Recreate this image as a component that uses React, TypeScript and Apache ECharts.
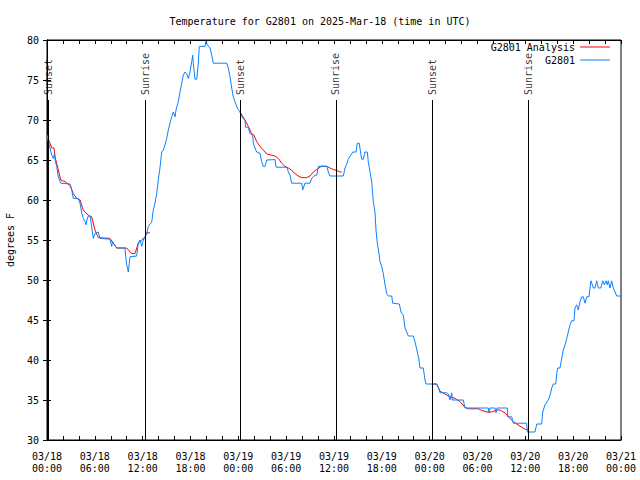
import React, { useEffect, useRef } from "react";
import * as echarts from "echarts";

// Hours since 2025-03-18 00:00 UTC, temperature in °F
const g2801Obs: [number, number][] = [
  [0, 68.1], [0.16, 67.3], [0.38, 66.5], [0.59, 65.6], [0.79, 65.2], [0.95, 65.8], [1.05, 64.8], [1.22, 64.2],
  [1.42, 62.9], [1.72, 62.1], [2.89, 62.0], [3.1, 61.3], [3.3, 60.2], [3.93, 60.2], [4.14, 59.6], [4.35, 58.4],
  [4.55, 57.7], [4.77, 57.3], [4.9, 56.9], [5.0, 57.5], [5.18, 58.0], [5.4, 58.0], [5.52, 57.2], [5.81, 55.2],
  [6.02, 55.8], [6.43, 56.0], [6.65, 55.2], [7.9, 55.1], [8.12, 54.2], [8.2, 54.8], [8.32, 54.6], [8.74, 54.0],
  [9.78, 54.0], [9.9, 52.7], [10.0, 51.9], [10.2, 51.0], [10.41, 52.9], [11.25, 53.0], [11.45, 54.6], [11.67, 55.0],
  [11.88, 54.2], [12.08, 55.0], [12.29, 55.3], [12.51, 55.8], [12.71, 56.7], [12.92, 57.0], [13.13, 57.2], [13.33, 58.75],
  [13.55, 59.6], [13.76, 60.8], [13.96, 62.5], [14.17, 64.0], [14.39, 66.0], [14.59, 66.25], [14.8, 66.9], [15.01, 67.7],
  [15.22, 68.75], [15.43, 69.6], [15.64, 70.4], [15.84, 71.0], [16.06, 70.4], [16.18, 71.25], [16.47, 72.3], [16.68, 73.5],
  [16.9, 74.6], [17.1, 75.6], [17.31, 76.0], [17.52, 75.8], [17.72, 75.2], [17.94, 76.0], [18.15, 77.3], [18.28, 78.1],
  [18.35, 77.1], [18.56, 75.1], [18.78, 75.1], [18.98, 77.1], [19.1, 79.2], [19.82, 79.2], [19.94, 79.9], [20.11, 79.4],
  [20.45, 79.0], [20.66, 78.1], [20.86, 77.1], [22.54, 77.1], [22.74, 76.5], [22.96, 75.4], [23.17, 74.0], [23.37, 72.9],
  [23.58, 72.3], [23.87, 71.5], [24.21, 71.0], [24.55, 70.2], [24.84, 70.0], [24.9, 69.1], [25.25, 69.1], [25.46, 68.3],
  [25.8, 68.1], [25.88, 67.1], [26.09, 66.5], [26.3, 66.0], [26.72, 65.8], [26.93, 64.8], [27.13, 64.2], [27.35, 64.2],
  [27.56, 65.0], [28.6, 65.05], [28.73, 64.1], [30.11, 64.1], [30.27, 63.5], [30.48, 63.1], [30.69, 62.1], [31.95, 62.1],
  [32.07, 61.25], [32.36, 62.1], [32.99, 62.1], [33.2, 62.7], [33.62, 63.1], [33.83, 63.1], [34.03, 64.2], [34.46, 64.2],
  [35.09, 64.2], [35.29, 63.5], [35.5, 63.0], [37.17, 63.0], [37.38, 64.0], [37.59, 64.5], [37.79, 65.1], [38.09, 65.6],
  [38.35, 66.0], [38.76, 66.0], [38.92, 67.1], [39.17, 67.1], [39.35, 65.8], [39.48, 65.1], [39.68, 65.1], [39.89, 66.0],
  [40.18, 66.0], [40.3, 64.8], [40.52, 63.5], [40.73, 62.3], [40.93, 59.8], [41.14, 58.5], [41.27, 56.25], [41.43, 54.6],
  [41.65, 53.3], [41.77, 52.3], [41.98, 51.7], [42.18, 50.8], [42.4, 49.4], [42.61, 48.3], [42.81, 48.0], [43.24, 48.0],
  [43.36, 47.1], [44.19, 47.0], [44.41, 46.0], [44.69, 45.6], [44.91, 44.0], [45.32, 43.0], [45.95, 43.0], [46.16, 42.3],
  [46.45, 41.0], [46.66, 40.0], [46.79, 39.0], [47.2, 39.0], [47.42, 37.5], [47.54, 37.0], [48.88, 37.0], [49.08, 36.6],
  [49.3, 35.9], [50.14, 35.9], [50.34, 35.75], [50.55, 35.0], [50.77, 35.9], [50.85, 35.0], [52.22, 35.0], [52.43, 34.0],
  [55.36, 34.0], [55.45, 33.4], [55.57, 34.0], [56.2, 34.0], [56.32, 33.4], [56.45, 34.0], [57.74, 34.0], [57.8, 32.9],
  [58.29, 32.9], [58.49, 32.1], [60.17, 32.1], [60.25, 31.0], [61.21, 31.0], [61.43, 32.0], [62.05, 32.0], [62.18, 33.5],
  [62.47, 34.4], [62.88, 35.0], [63.1, 35.6], [63.31, 36.5], [63.51, 37.0], [63.81, 37.0], [63.94, 38.3], [64.06, 39.0],
  [64.35, 39.0], [64.56, 40.2], [64.76, 41.25], [64.98, 41.9], [65.19, 42.7], [65.39, 43.5], [65.6, 44.4], [65.82, 44.9],
  [66.11, 44.9], [66.23, 46.5], [66.44, 46.9], [66.64, 46.25], [66.86, 47.3], [67.07, 47.9], [67.27, 47.9], [67.49, 47.1],
  [67.7, 47.9], [67.99, 47.9], [68.11, 49.0], [68.24, 49.9], [68.53, 49.0], [68.74, 49.0], [68.95, 49.9], [69.16, 49.0],
  [69.46, 49.0], [69.71, 49.9], [69.91, 49.4], [70.12, 49.9], [70.28, 49.4], [70.41, 49.9], [70.62, 49.0], [70.83, 49.9],
  [71.03, 49.0], [71.25, 48.5], [71.46, 48.0], [72, 48.0],
];

const analysisNight1: [number, number][] = [
  [0, 68.1], [0.59, 66.5], [0.88, 66.5], [1.0, 65.4], [1.42, 63.75], [1.72, 62.5], [2.26, 62.3], [2.89, 61.8],
  [3.3, 60.8], [3.73, 60.2], [4.14, 60.0], [4.55, 58.75], [5.18, 58.1], [5.6, 57.9], [6.02, 56.25], [6.43, 55.3],
  [7.06, 55.25], [7.9, 55.2], [8.32, 54.6], [8.74, 54.0], [9.99, 54.0], [10.62, 53.3], [11.04, 53.3], [11.45, 54.6],
  [11.88, 55.0], [12.29, 55.4], [12.51, 55.9], [12.92, 55.9],
];
const analysisNight2: [number, number][] = [
  [24.21, 71.0], [24.84, 70.0], [25.25, 69.2], [25.67, 68.3], [25.96, 68.1], [26.3, 67.3], [26.72, 66.7], [27.13, 66.25],
  [27.56, 65.75], [28.18, 65.6], [28.6, 65.5], [29.02, 65.2], [29.44, 64.6], [29.85, 64.2], [30.27, 64.0], [30.69, 63.7],
  [31.11, 63.3], [31.52, 63.0], [31.95, 62.8], [32.57, 62.8], [32.99, 63.0], [33.41, 63.5], [33.83, 63.8], [34.46, 64.25],
  [35.09, 64.2], [35.5, 64.0], [35.92, 63.8], [36.34, 63.7], [36.76, 63.5], [36.97, 63.5],
];
const analysisNight3: [number, number][] = [
  [48.3, 37.0], [48.88, 37.0], [49.3, 36.1], [49.92, 35.75], [50.55, 35.4], [51.18, 35.2], [51.81, 34.8], [52.43, 34.1],
  [52.85, 33.9], [54.11, 33.9], [54.53, 33.7], [55.15, 33.5], [55.78, 33.5], [56.4, 33.75], [56.82, 33.75], [57.45, 33.4],
  [57.87, 32.9], [58.49, 32.3], [58.91, 32.0], [59.54, 31.6], [60.08, 31.3], [60.37, 31.3],
];

const eventHours = [0.15, 12.33, 24.25, 36.25, 48.33, 60.38];
const eventNames = ["Sunset", "Sunrise", "Sunset", "Sunrise", "Sunset", "Sunrise"];
const eventLineTop = 72.5;

const dayLabels = ["03/18", "03/19", "03/20", "03/21"];

const FONT = "DejaVu Sans Mono";
const BLUE = "#0a80ff";
const RED = "#ff0000";

export default function App() {
  const ref = useRef<HTMLDivElement>(null);
  useEffect(() => {
    if (!ref.current) return;
    const chart = echarts.init(ref.current, undefined, { renderer: "svg" });
    const pad = (n: number) => (n < 10 ? "0" + n : "" + n);
    const tickStyle = { inside: true, length: 4, lineStyle: { color: "#000", width: 1 } };
    const analysisSeries = [analysisNight1, analysisNight2, analysisNight3].map((d) => ({
      name: "G2801 Analysis",
      type: "line",
      data: d,
      symbol: "none",
      legendIcon: "rect",
      lineStyle: { color: RED, width: 1 },
      itemStyle: { color: RED },
      z: 2,
    }));
    chart.setOption({
      animation: false,
      backgroundColor: "#fff",
      textStyle: { fontFamily: FONT },
      title: {
        text: "Temperature for G2801 on 2025-Mar-18 (time in UTC)",
        left: "center",
        top: 11,
        textStyle: { fontFamily: FONT, fontSize: 10, fontWeight: "normal", color: "#000" },
      },
      legend: {
        data: ["G2801 Analysis", "G2801"],
        orient: "vertical",
        align: "right",
        right: 25,
        top: 36,
        icon: "rect",
        itemWidth: 30,
        itemHeight: 1,
        itemGap: 1,
        textStyle: { fontFamily: FONT, fontSize: 10, color: "#000", lineHeight: 12 },
      },
      grid: {
        left: 47,
        right: 19,
        top: 40,
        bottom: 40,
        outerBoundsMode: "none",
        show: true,
        borderColor: "#000",
        borderWidth: 1,
        backgroundColor: "transparent",
      },
      xAxis: [
        {
          type: "value",
          min: 0,
          max: 72,
          interval: 2,
          axisLine: { lineStyle: { color: "#000" } },
          axisTick: tickStyle,
          splitLine: { show: false },
          axisLabel: {
            fontFamily: FONT,
            fontSize: 10,
            color: "#000",
            lineHeight: 12,
            margin: 10,
            formatter: (v: number) =>
              v % 6 === 0 ? `${dayLabels[Math.floor(v / 24)]}\n${pad(v % 24)}:00` : "",
          },
        },
        {
          type: "value",
          position: "top",
          min: 0,
          max: 72,
          interval: 2,
          axisLine: { lineStyle: { color: "#000" } },
          axisTick: tickStyle,
          axisLabel: { show: false },
          splitLine: { show: false },
        },
      ],
      yAxis: [
        {
          type: "value",
          min: 30,
          max: 80,
          interval: 5,
          name: "degrees F",
          nameLocation: "middle",
          nameRotate: 90,
          nameGap: 32,
          nameTextStyle: { fontFamily: FONT, fontSize: 10, color: "#000" },
          axisLine: { show: true, lineStyle: { color: "#000" } },
          axisTick: tickStyle,
          splitLine: { show: false },
          axisLabel: { fontFamily: FONT, fontSize: 10, color: "#000", margin: 8 },
        },
        {
          type: "value",
          position: "right",
          min: 30,
          max: 80,
          interval: 5,
          axisLine: { show: true, lineStyle: { color: "#000" } },
          axisTick: tickStyle,
          axisLabel: { show: false },
          splitLine: { show: false },
        },
      ],
      series: [
        ...analysisSeries,
        {
          name: "G2801",
          type: "line",
          data: g2801Obs,
          symbol: "none",
          legendIcon: "rect",
          lineStyle: { color: BLUE, width: 1 },
          itemStyle: { color: BLUE },
          z: 3,
        },
        {
          name: "events",
          type: "scatter",
          symbolSize: 0,
          silent: true,
          data: eventHours.map((h, i) => ({ value: [h, eventLineTop], name: eventNames[i] })),
          label: {
            show: true,
            formatter: (p: any) => p.name,
            rotate: 90,
            position: [0, -5],
            align: "left",
            verticalAlign: "middle",
            fontFamily: FONT,
            fontSize: 10,
            color: "#000",
          },
          markLine: {
            silent: true,
            symbol: ["none", "none"],
            label: { show: false },
            lineStyle: { color: "#000", width: 1, type: "solid" },
            data: eventHours.map((h) => [{ coord: [h, 30] }, { coord: [h, eventLineTop] }]),
          },
          z: 4,
        },
      ],
    });
    return () => chart.dispose();
  }, []);
  return (
    <div
      ref={ref}
      style={{ position: "fixed", left: 0, top: 0, width: 640, height: 480, background: "#fff" }}
    />
  );
}
